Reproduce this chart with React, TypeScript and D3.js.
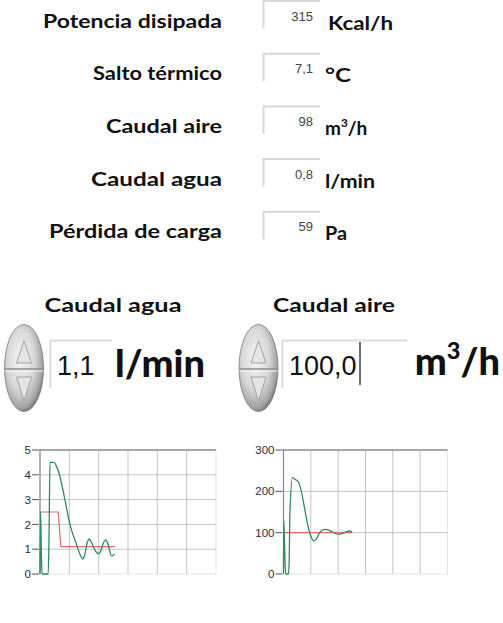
import React from 'react'
import * as d3 from 'd3'

// indicator rows
const rowLabels = ['Potencia disipada', 'Salto térmico', 'Caudal aire', 'Caudal agua', 'Pérdida de carga']
const rowValues = ['315', '7,1', '98', '0,8', '59']
const rowUnits = ['Kcal/h', '°C', 'm3/h', 'l/min', 'Pa']
const labelWidths = [179, 129, 116, 131, 173]
const unitWidths = [65, 26, 0, 50, 22]

// controls
const controlLabels = ['Caudal agua', 'Caudal aire']
const controlValues = ['1,1', '100,0']
const controlUnits = ['l/min', 'm3/h']

// chart 1 : caudal agua (x in grid divisions)
const aguaT = [0, 0.02, 0.05, 0.07, 0.28, 0.31, 0.34, 0.47, 0.58, 1.08, 1.22, 1.4, 1.46, 1.52, 1.62, 1.68, 1.74, 1.92, 1.99, 2.06, 2.18, 2.25, 2.32, 2.44, 2.54]
const aguaVals = [0, 2.5, 0.65, 0, 0, 1.7, 4.5, 4.5, 4.3, 1.75, 1.27, 0.7, 0.6, 0.75, 1.3, 1.42, 1.3, 0.88, 0.81, 0.9, 1.3, 1.38, 1.2, 0.73, 0.8]
const aguaSpT = [0.03, 0.62, 0.71, 2.56]
const aguaSp = [2.5, 2.5, 1.1, 1.1]
const aguaTicks = [0, 1, 2, 3, 4, 5]

// chart 2 : caudal aire
const aireT = [0, 0.01, 0.04, 0.08, 0.18, 0.21, 0.23, 0.33, 0.45, 0.55, 0.98, 1.1, 1.2, 1.35, 1.53, 1.7, 1.85, 2.01, 2.15, 2.3, 2.44, 2.51]
const aireVals = [0, 130, 70, 0, 0, 35, 140, 233, 228, 222, 95, 80, 85, 103, 108, 105, 100, 96, 98, 102, 104, 100]
const aireSpT = [0, 2.51]
const aireSp = [100, 100]
const aireTicks = [0, 100, 200, 300]

const boldFont = 'Lato, "DejaVu Sans", sans-serif'
const numFont = '"Liberation Sans", Arial, sans-serif'

// "m3/h" -> m with a raised 3
function unitText(u: string, size: number) {
    if (!u.includes('3')) return u
    const [a, b] = u.split('3')
    return [
        <tspan key="a">{a}</tspan>,
        <tspan key="s" fontSize={size * 0.62} dy={-size * 0.42}>3</tspan>,
        <tspan key="b" dy={size * 0.42}>{b}</tspan>,
    ]
}

function Indicator({ i }: { i: number }) {
    const top = 0.5 + i * 52.7
    const uw = unitWidths[i]
    return (
        <g>
            <text x={222} y={top + 27} textAnchor="end" fontFamily={boldFont} fontWeight={700}
                fontSize={18} textLength={labelWidths[i]} lengthAdjust="spacingAndGlyphs" fill="#111">
                {rowLabels[i]}
            </text>
            <rect x={263} y={top} width={57} height={28} fill="#fff" />
            <path d={`M263.5,${top + 28} V${top + 0.5} H320`} stroke="#d8d8d8" strokeWidth={2} fill="none" />
            <text x={313} y={top + 20} textAnchor="end" fontFamily={numFont} fontSize={13} fill="#444">
                {rowValues[i]}
            </text>
            <text x={i === 0 ? 328 : 325} y={top + 29} fontFamily={boldFont} fontWeight={700} fontSize={19} fill="#111"
                textLength={uw || undefined} lengthAdjust={uw ? 'spacingAndGlyphs' : undefined}>
                {unitText(rowUnits[i], 19)}
            </text>
        </g>
    )
}

function Knob({ cx }: { cx: number }) {
    const cy = 368
    return (
        <g>
            <ellipse cx={cx} cy={cy} rx={19.5} ry={43.5} fill="url(#knobGrad)" stroke="#7a7a7a" strokeWidth={0.8} />
            <line x1={cx - 19} x2={cx + 19} y1={cy + 1} y2={cy + 1} stroke="#8c8c8c" strokeWidth={1.5} />
            <line x1={cx - 19} x2={cx + 19} y1={cy + 3} y2={cy + 3} stroke="#f6f6f6" strokeWidth={1.2} />
            <polygon points={`${cx},${cy - 27} ${cx - 7.5},${cy - 5} ${cx + 7.5},${cy - 5}`} fill="#e4e4e4" stroke="#9a9a9a" strokeWidth={0.9} />
            <polygon points={`${cx - 7.5},${cy + 9} ${cx + 7.5},${cy + 9} ${cx},${cy + 33}`} fill="#e4e4e4" stroke="#9a9a9a" strokeWidth={0.9} />
        </g>
    )
}

function Chart({ x0, x1, ymax, ticks, t, vals, spT, sp }: {
    x0: number, x1: number, ymax: number, ticks: number[],
    t: number[], vals: number[], spT: number[], sp: number[]
}) {
    const y0 = 574
    const yTop = 450
    const x = d3.scaleLinear().domain([0, 6]).range([x0, x1])
    const y = d3.scaleLinear().domain([0, ymax]).range([y0, yTop])

    const line = d3.line<number>()
        .x((d, i) => x(t[i]))
        .y((d) => y(d))
        .curve(d3.curveMonotoneX)
    const spLine = d3.line<number>()
        .x((d, i) => x(spT[i]))
        .y((d) => y(d))

    return (
        <g>
            <rect x={x0} y={yTop} width={x1 - x0} height={y0 - yTop} fill="#fff" stroke="#e4e4e4" />
            {d3.range(1, 6).map((k) => (
                <line key={'v' + k} x1={x(k)} x2={x(k)} y1={yTop} y2={y0} stroke="#c4c4c4" />
            ))}
            {ticks.filter((v) => v > 0 && v < ymax).map((v) => (
                <line key={'h' + v} x1={x0} x2={x1} y1={y(v)} y2={y(v)} stroke="#c4c4c4" />
            ))}
            <line x1={x0} x2={x1} y1={yTop} y2={yTop} stroke="#a8a8a8" strokeWidth={2} />
            <line x1={x0} x2={x0} y1={yTop - 1} y2={y0} stroke="#8a8a8a" strokeWidth={1.2} />
            {ticks.map((v) => (
                <g key={'t' + v}>
                    <line x1={x0 - 8} x2={x0 - 1} y1={y(v)} y2={y(v)} stroke="#555" />
                    <text x={x0 - 9} y={y(v)} dy="0.36em" textAnchor="end" fontFamily={numFont}
                        fontSize={11.5} fill="#2a2a3a">{v}</text>
                </g>
            ))}
            <path d={spLine(sp) || ''} fill="none" stroke="#e06a6a" strokeWidth={1.2} />
            <path d={line(vals) || ''} fill="none" stroke="#2f8a5e" strokeWidth={1.3} />
        </g>
    )
}

export default function App() {
    return (
        <svg width={503} height={623} style={{ position: 'absolute', left: 0, top: 0, background: '#fff' }}>
            <defs>
                <radialGradient id="knobGrad" cx="0.42" cy="0.4" r="0.65">
                    <stop offset="0" stopColor="#f6f6f6" />
                    <stop offset="0.55" stopColor="#d6d6d6" />
                    <stop offset="0.85" stopColor="#a4a4a4" />
                    <stop offset="1" stopColor="#666" />
                </radialGradient>
            </defs>
            {rowLabels.map((l, i) => <Indicator key={l + i} i={i} />)}

            <text x={113} y={311.5} textAnchor="middle" fontFamily={boldFont} fontWeight={700}
                fontSize={18} textLength={137} lengthAdjust="spacingAndGlyphs" fill="#111">{controlLabels[0]}</text>
            <text x={334} y={311.5} textAnchor="middle" fontFamily={boldFont} fontWeight={700}
                fontSize={18} textLength={122} lengthAdjust="spacingAndGlyphs" fill="#111">{controlLabels[1]}</text>

            <Knob cx={24} />
            <Knob cx={258.5} />

            <rect x={50} y={340} width={62} height={48} fill="#fff" />
            <path d="M50.5,388 V340.5 H112" stroke="#dcdcdc" strokeWidth={2} fill="none" />
            <text x={57} y={375} fontFamily={numFont} fontSize={27} fill="#111">{controlValues[0]}</text>
            <text x={115} y={376.5} fontFamily={boldFont} fontWeight={900} fontSize={38} fill="#111">{controlUnits[0]}</text>

            <rect x={282} y={340} width={125} height={48} fill="#fff" />
            <path d="M282.5,388 V340.5 H407" stroke="#dcdcdc" strokeWidth={2} fill="none" />
            <text x={289} y={375} fontFamily={numFont} fontSize={27} fill="#111">{controlValues[1]}</text>
            <line x1={360} x2={360} y1={342} y2={385} stroke="#111" strokeWidth={1.2} />
            <text x={500} y={375} textAnchor="end" fontFamily={boldFont} fontWeight={900} fontSize={38} fill="#111">
                {unitText(controlUnits[1], 38)}
            </text>

            <Chart x0={40} x1={216} ymax={5} ticks={aguaTicks} t={aguaT} vals={aguaVals} spT={aguaSpT} sp={aguaSp} />
            <Chart x0={283.5} x1={447.5} ymax={300} ticks={aireTicks} t={aireT} vals={aireVals} spT={aireSpT} sp={aireSp} />
        </svg>
    )
}
